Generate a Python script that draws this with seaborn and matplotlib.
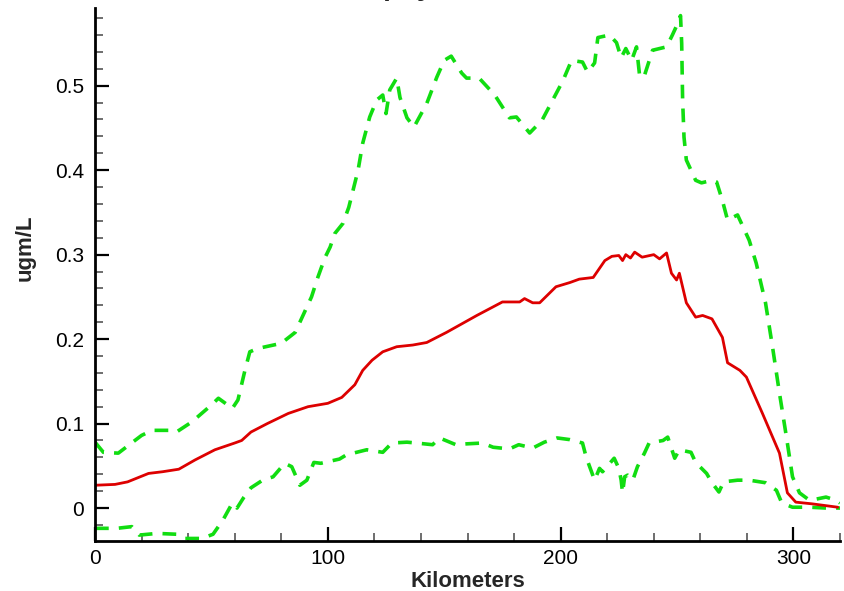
import matplotlib
matplotlib.use("Agg")
import matplotlib.pyplot as plt
import seaborn as sns
from matplotlib.ticker import MultipleLocator

# mean concentration along the transect
mean_km = [0, 8.6, 14, 23, 29, 36, 43, 51.5, 60, 63, 67, 74, 83, 91.5, 100, 106, 111.6,
           115, 119, 123.6, 129.6, 136.5, 142.5, 151, 164, 175, 182.4, 184.5, 188, 191,
           198, 204, 208, 214, 219, 222, 225, 226.6, 228, 230, 231.8, 235, 240, 242.5,
           245.5, 247.6, 249.8, 251, 254, 258, 261, 265, 269.5, 271.7, 277, 279.8, 286.7,
           294, 297.4, 301, 308, 319]
mean_val = [0.027, 0.028, 0.031, 0.041, 0.043, 0.046, 0.057, 0.069, 0.077, 0.080, 0.090,
            0.100, 0.112, 0.120, 0.124, 0.131, 0.146, 0.163, 0.175, 0.185, 0.191, 0.193,
            0.196, 0.208, 0.228, 0.244, 0.244, 0.248, 0.243, 0.243, 0.262, 0.267, 0.271,
            0.273, 0.293, 0.298, 0.299, 0.293, 0.300, 0.296, 0.303, 0.297, 0.300, 0.295,
            0.302, 0.278, 0.270, 0.278, 0.243, 0.226, 0.228, 0.224, 0.202, 0.172, 0.163,
            0.155, 0.112, 0.065, 0.018, 0.007, 0.005, 0.001]

# upper bound
upper_km = [0, 3.6, 10, 20, 24.5, 33, 35, 41.6, 50, 53, 59, 61.4, 64.4, 66.5, 70, 80, 86,
            90, 93, 95.7, 98.7, 101, 103, 106.5, 109, 113, 115, 118, 121, 123.6, 125,
            126.6, 129.6, 131, 134, 137, 142.5, 146.8, 150, 153, 157.5, 159.6, 165, 171.7,
            173.8, 178, 181, 186.7, 192, 196.6, 201, 204.7, 209.4, 211.6, 214.6, 216, 221,
            224, 226, 228, 230.5, 232.6, 234, 236, 239.5, 245.5, 248, 250, 251.5, 252,
            252.4, 253, 254, 258, 260.5, 265, 267, 269.5, 271.7, 276, 281, 284, 288, 291,
            294, 297, 299.6, 302.6, 307, 314, 318.5, 320]
upper_val = [0.078, 0.066, 0.065, 0.086, 0.092, 0.092, 0.090, 0.102, 0.122, 0.130, 0.118,
             0.128, 0.163, 0.185, 0.189, 0.195, 0.208, 0.232, 0.250, 0.273, 0.296, 0.309,
             0.325, 0.337, 0.356, 0.400, 0.432, 0.463, 0.483, 0.489, 0.467, 0.495, 0.509,
             0.486, 0.462, 0.451, 0.479, 0.510, 0.530, 0.535, 0.515, 0.509, 0.509, 0.489,
             0.480, 0.462, 0.463, 0.444, 0.459, 0.483, 0.506, 0.530, 0.528, 0.516, 0.527,
             0.557, 0.560, 0.551, 0.533, 0.544, 0.530, 0.546, 0.510, 0.512, 0.542, 0.546,
             0.560, 0.572, 0.583, 0.550, 0.483, 0.439, 0.412, 0.388, 0.385, 0.388, 0.386,
             0.364, 0.341, 0.347, 0.317, 0.290, 0.243, 0.191, 0.136, 0.084, 0.037, 0.018,
             0.009, 0.013, 0.009, 0.006]

# lower bound
lower_km = [0, 9.4, 15.8, 19, 26.6, 35, 38.6, 46, 50.7, 55, 59, 61, 64, 67, 72, 76.5, 81.5,
            84.5, 88, 91, 94, 97, 105, 108, 116.7, 123.6, 127.5, 134, 138, 145, 148, 155,
            159.6, 166.5, 171, 178, 182, 188, 193, 198.5, 204, 209.4, 211, 213, 214.6,
            216.7, 218, 223, 225, 226, 226.6, 227.5, 228.8, 231, 233, 236, 238, 244, 246,
            249, 251, 256, 258, 262.7, 265, 268, 270, 276, 281, 288, 292.7, 295, 299.6,
            307, 314, 320]
lower_val = [-0.024, -0.024, -0.022, -0.032, -0.030, -0.031, -0.036, -0.036, -0.031,
             -0.014, 0.006, 0.000, 0.013, 0.024, 0.033, 0.037, 0.053, 0.049, 0.027, 0.033,
             0.054, 0.053, 0.058, 0.063, 0.069, 0.066, 0.077, 0.078, 0.077, 0.075, 0.083,
             0.075, 0.076, 0.077, 0.072, 0.070, 0.075, 0.071, 0.078, 0.083, 0.081, 0.077,
             0.060, 0.045, 0.033, 0.047, 0.043, 0.059, 0.047, 0.033, 0.018, 0.037, 0.039,
             0.033, 0.049, 0.065, 0.077, 0.080, 0.084, 0.059, 0.069, 0.066, 0.054, 0.041,
             0.030, 0.019, 0.031, 0.033, 0.033, 0.030, 0.021, 0.006, 0.001, 0.001, 0.000,
             0.000]

xtick_vals = [0, 100, 200, 300]
xtick_labels = ["0", "100", "200", "300"]
ytick_vals = [0, 0.1, 0.2, 0.3, 0.4, 0.5]
ytick_labels = ["0", "0.1", "0.2", "0.3", "0.4", "0.5"]

sns.set_style("ticks")
plt.rcParams["font.family"] = ["Liberation Sans", "DejaVu Sans"]

fig = plt.figure(figsize=(8.44, 5.91), dpi=100)
ax = fig.add_axes([95 / 844, 50 / 591, 745 / 844, 533 / 591])

green = "#11dd11"
red = "#dd0000"
dash = (0, (3.8, 2.8))
sns.lineplot(x=upper_km, y=upper_val, ax=ax, color=green, lw=2.6, ls=dash)
sns.lineplot(x=lower_km, y=lower_val, ax=ax, color=green, lw=2.6, ls=dash)
sns.lineplot(x=mean_km, y=mean_val, ax=ax, color=red, lw=2.0, solid_joinstyle="round")

ax.set_xlim(0, 320)
ax.set_ylim(-0.039, 0.592)
ax.set_xticks(xtick_vals)
ax.set_xticklabels(xtick_labels)
ax.set_yticks(ytick_vals)
ax.set_yticklabels(ytick_labels)
ax.xaxis.set_minor_locator(MultipleLocator(20))
ax.yaxis.set_minor_locator(MultipleLocator(0.02))

sns.despine(ax=ax)
for s in ["left", "bottom"]:
    ax.spines[s].set_linewidth(2.0)
    ax.spines[s].set_color("black")

ax.tick_params(which="major", direction="in", length=10, width=1.6, labelsize=15,
               colors="black", pad=6)
ax.tick_params(which="minor", direction="in", length=6, width=1.2, color="#555555")
ax.tick_params(axis="y", which="major", pad=8)

ax.set_xlabel("Kilometers", fontsize=16, fontweight="bold", labelpad=2)
ax.set_ylabel("ugm/L", fontsize=16, fontweight="bold")
ax.yaxis.set_label_coords(-0.08, 0.55)

# title sits mostly above the visible area
fig.text(295 / 844, 1 + 5 / 591, "Chlorophyll", fontsize=20, fontweight="bold",
         ha="left", va="baseline")

fig.savefig("out.png", dpi=100)
